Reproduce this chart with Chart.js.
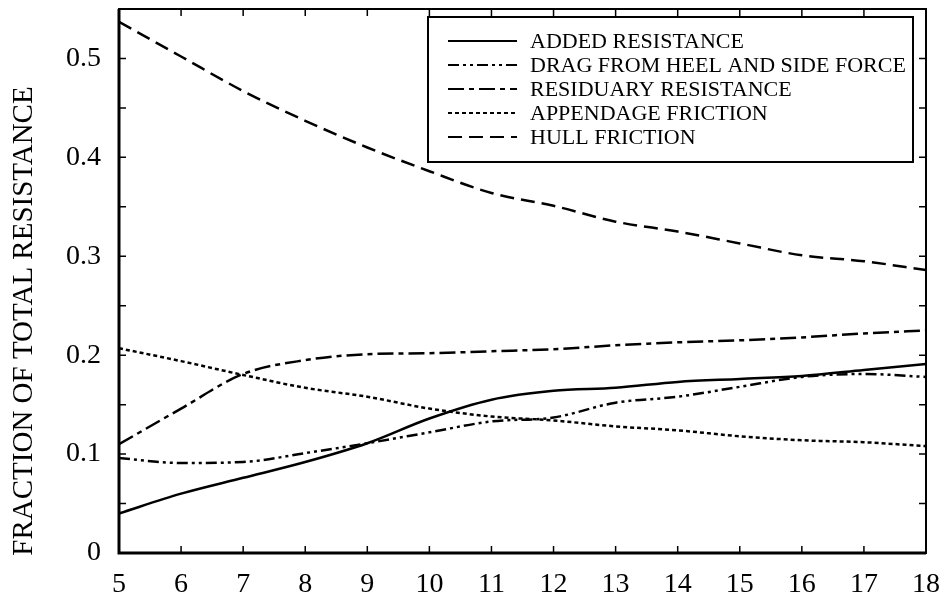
<!DOCTYPE html>
<html>
<head>
<meta charset="utf-8">
<script src="https://cdn.jsdelivr.net/npm/chart.js@4"></script>
<style>
  html, body { margin: 0; padding: 0; background: #fff; }
  #wrap { width: 944px; height: 599px; }
</style>
</head>
<body>
<div id="wrap"><canvas id="chart" width="944" height="599"></canvas></div>
<script>
// data
const speeds = [5, 6, 7, 8, 9, 10, 11, 12, 13, 14, 15, 16, 17, 18];
const addedResistance = [0.040, 0.060, 0.076, 0.092, 0.111, 0.136, 0.155, 0.164, 0.167, 0.173, 0.176, 0.179, 0.185, 0.191];
const heelDrag = [0.096, 0.091, 0.092, 0.101, 0.111, 0.122, 0.133, 0.137, 0.152, 0.158, 0.168, 0.178, 0.181, 0.178];
const residuary = [0.110, 0.146, 0.181, 0.195, 0.201, 0.202, 0.204, 0.206, 0.210, 0.213, 0.215, 0.218, 0.222, 0.225];
const appendageFriction = [0.207, 0.194, 0.180, 0.167, 0.158, 0.146, 0.138, 0.134, 0.128, 0.124, 0.118, 0.114, 0.112, 0.108];
const hullFriction = [0.537, 0.502, 0.467, 0.437, 0.410, 0.386, 0.364, 0.351, 0.335, 0.325, 0.313, 0.301, 0.295, 0.286];

const yLabels = ["0", "0.1", "0.2", "0.3", "0.4", "0.5"];
const yTitle = "FRACTION OF TOTAL RESISTANCE";

const FONT = "'Liberation Serif', 'DejaVu Serif', serif";

function pts(ys) {
  return speeds.map((x, i) => ({ x: x, y: ys[i] }));
}

const series = [
  { label: "ADDED RESISTANCE", data: addedResistance, dash: [] },
  { label: "DRAG FROM HEEL AND SIDE FORCE", data: heelDrag, dash: [11, 4, 3, 4, 3, 4] },
  { label: "RESIDUARY RESISTANCE", data: residuary, dash: [16, 5, 5, 5] },
  { label: "APPENDAGE FRICTION", data: appendageFriction, dash: [4, 3] },
  { label: "HULL FRICTION", data: hullFriction, dash: [14, 7] }
];

// inward ticks, frame, legend box and y title
const framePlugin = {
  id: "frame",
  afterDraw(chart) {
    const ctx = chart.ctx;
    const a = chart.chartArea;
    const xs = chart.scales.x, ys = chart.scales.y;
    ctx.save();
    ctx.strokeStyle = "#000";
    ctx.setLineDash([]);
    ctx.lineWidth = 2;
    ctx.strokeRect(a.left, a.top, a.right - a.left, a.bottom - a.top);
    // heavier left and bottom edges
    ctx.lineWidth = 3;
    ctx.beginPath();
    ctx.moveTo(a.left, a.top); ctx.lineTo(a.left, a.bottom); ctx.lineTo(a.right, a.bottom);
    ctx.stroke();

    ctx.lineWidth = 1.5;
    xs.ticks.forEach(t => {
      const px = xs.getPixelForValue(t.value);
      ctx.beginPath();
      ctx.moveTo(px, a.bottom); ctx.lineTo(px, a.bottom - 7);
      ctx.moveTo(px, a.top); ctx.lineTo(px, a.top + 7);
      ctx.stroke();
    });
    ys.ticks.forEach(t => {
      const py = ys.getPixelForValue(t.value);
      ctx.beginPath();
      ctx.moveTo(a.left, py); ctx.lineTo(a.left + 7, py);
      ctx.moveTo(a.right, py); ctx.lineTo(a.right - 7, py);
      ctx.stroke();
    });

    // y axis title
    ctx.save();
    ctx.translate(24, 321);
    ctx.rotate(-Math.PI / 2);
    ctx.fillStyle = "#000";
    ctx.font = "29px " + FONT;
    ctx.textAlign = "center";
    ctx.textBaseline = "middle";
    ctx.fillText(yTitle, 0, 0);
    ctx.restore();

    // legend
    const lx = 428, ly = 17, lw = 485, lh = 145;
    ctx.fillStyle = "#fff";
    ctx.fillRect(lx, ly, lw, lh);
    ctx.lineWidth = 2;
    ctx.strokeRect(lx, ly, lw, lh);
    ctx.font = "22px " + FONT;
    ctx.textAlign = "left";
    ctx.textBaseline = "middle";
    ctx.fillStyle = "#000";
    series.forEach((s, i) => {
      const y = 41 + i * 24;
      ctx.lineWidth = 2.2;
      ctx.setLineDash(s.dash);
      ctx.beginPath();
      ctx.moveTo(448, y); ctx.lineTo(517, y);
      ctx.stroke();
      ctx.setLineDash([]);
      ctx.fillText(s.label, 530, y + 1);
    });
    ctx.restore();
  }
};

new Chart(document.getElementById("chart"), {
  type: "line",
  data: {
    datasets: series.map(s => ({
      label: s.label,
      data: pts(s.data),
      borderColor: "#000",
      borderWidth: 2.5,
      borderDash: s.dash,
      pointRadius: 0,
      fill: false,
      cubicInterpolationMode: "monotone"
    }))
  },
  options: {
    responsive: false,
    animation: false,
    layout: { padding: { top: 9, right: 18, left: 0, bottom: 0 } },
    plugins: { legend: { display: false }, tooltip: { enabled: false } },
    scales: {
      x: {
        type: "linear",
        min: 5, max: 18,
        grid: { display: false },
        border: { display: false },
        ticks: {
          stepSize: 1,
          padding: 7,
          color: "#000",
          font: { family: FONT, size: 28 },
          maxRotation: 0
        },
        afterFit(scale) {
          scale.height = 46;
          scale.paddingLeft = 0;
          scale.paddingRight = 0;
        }
      },
      y: {
        min: 0, max: 0.55,
        grid: { display: false },
        border: { display: false },
        ticks: {
          stepSize: 0.05,
          padding: 10,
          color: "#000",
          font: { family: FONT, size: 28 },
          callback(v) {
            const k = Math.round(v * 20);
            return k % 2 === 0 ? yLabels[k / 2] : "";
          }
        },
        afterFit(scale) {
          scale.width = 119;
          scale.paddingTop = 0;
          scale.paddingBottom = 0;
        }
      }
    }
  },
  plugins: [framePlugin]
});
</script>
</body>
</html>
